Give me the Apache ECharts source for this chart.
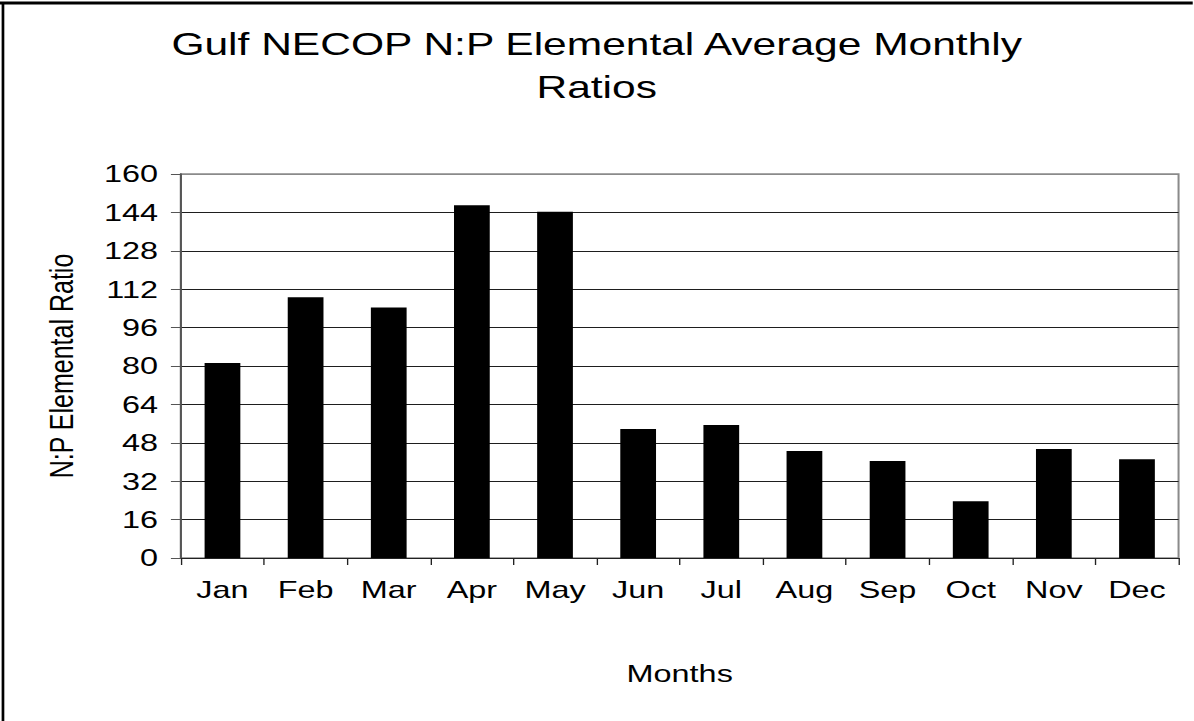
<!DOCTYPE html>
<html>
<head>
<meta charset="utf-8">
<script src="https://cdn.jsdelivr.net/npm/echarts@6/dist/echarts.min.js"></script>
<style>
  html, body { margin: 0; padding: 0; background: #fff; overflow: hidden; }
  /* the chart is laid out narrow and widened horizontally */
  #chart {
    position: absolute; left: 0; top: 0;
    width: 884.4px; height: 721px;
    transform: scaleX(1.35); transform-origin: 0 0;
  }
</style>
</head>
<body>
<div id="chart"></div>
<script>
const months = ['Jan', 'Feb', 'Mar', 'Apr', 'May', 'Jun', 'Jul', 'Aug', 'Sep', 'Oct', 'Nov', 'Dec'];
const npRatio = [81.2, 108.6, 104.4, 147, 144.3, 53.8, 55.4, 44.6, 40.4, 23.6, 45.4, 41.1];
const yMin = 0;
const yMax = 160;
const yStep = 16;

const FONT = '"Liberation Sans", Arial, sans-serif';
const gridColors = [];
for (let v = yMin; v <= yMax; v += yStep) gridColors.push(v === yMax ? '#8a8a8a' : '#1e1e1e');

const chart = echarts.init(document.getElementById('chart'), null, { renderer: 'svg' });
chart.setOption({
  backgroundColor: '#fff',
  animation: false,
  title: {
    text: 'Gulf NECOP N:P Elemental Average Monthly\nRatios',
    left: 'center',
    top: 18,
    textStyle: { fontFamily: FONT, fontSize: 31.5, fontWeight: 'normal', color: '#000', lineHeight: 43 }
  },
  graphic: [
    { type: 'line', shape: { x1: 0, y1: 3, x2: 883.5, y2: 3 }, style: { stroke: '#000', lineWidth: 3 } },
    { type: 'line', shape: { x1: 2.2, y1: 3, x2: 2.2, y2: 721 }, style: { stroke: '#000', lineWidth: 2 } }
  ],
  grid: {
    left: 134, right: 11, top: 174, bottom: 163,
    show: true, borderColor: '#8a8a8a', borderWidth: 1.5, backgroundColor: '#fff'
  },
  xAxis: {
    type: 'category',
    data: months,
    name: 'Months',
    nameLocation: 'middle',
    nameGap: 104,
    nameTextStyle: { fontFamily: FONT, fontSize: 24, color: '#000' },
    axisLine: { lineStyle: { color: '#222', width: 1 } },
    axisTick: { show: true, length: 7, lineStyle: { color: '#222', width: 1 } },
    axisLabel: { fontFamily: FONT, fontSize: 24, color: '#000', margin: 20, interval: 0 },
    splitLine: { show: false }
  },
  yAxis: {
    type: 'value',
    min: yMin, max: yMax, interval: yStep,
    name: 'N:P Elemental Ratio',
    nameLocation: 'middle',
    nameGap: 76,
    nameTextStyle: { fontFamily: FONT, fontSize: 25, color: '#000' },
    axisLine: { show: true, lineStyle: { color: '#555', width: 1.5 } },
    axisTick: { show: true, length: 7.4, lineStyle: { color: '#555', width: 1 } },
    axisLabel: { fontFamily: FONT, fontSize: 24, color: '#000', margin: 17 },
    splitLine: { show: true, lineStyle: { color: gridColors, width: 1 } }
  },
  series: [{
    type: 'bar',
    data: npRatio,
    barWidth: '43%',
    itemStyle: { color: '#000' }
  }]
});
</script>
</body>
</html>
